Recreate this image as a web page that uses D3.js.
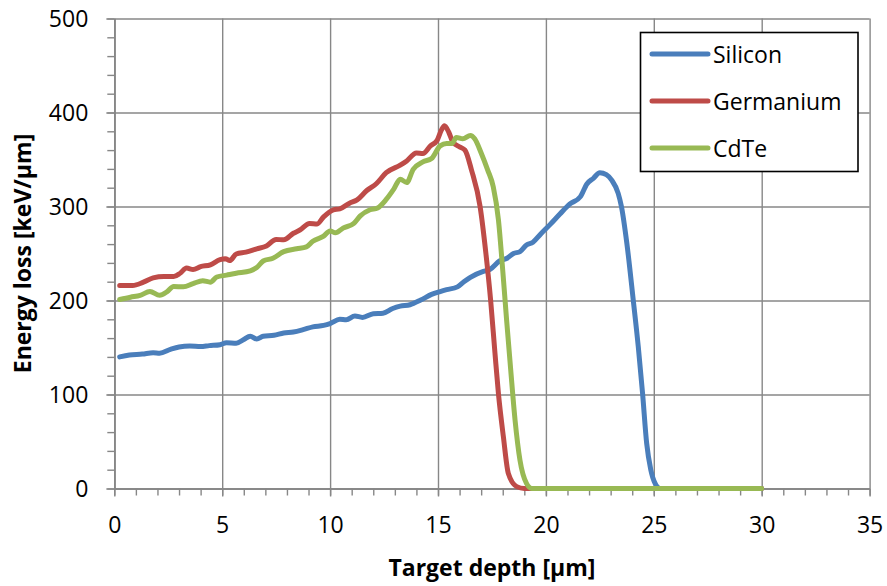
<!DOCTYPE html>
<html>
<head>
<meta charset="utf-8">
<script src="https://cdn.jsdelivr.net/npm/d3@7"></script>
<style>
  body { margin: 0; background: #fff; }
  svg { display: block; font-family: "Open Sans", sans-serif; }
  .grid line { stroke: #878787; stroke-width: 1.4; }
  .grid .domain { display: none; }
  .axis .domain { stroke: #878787; stroke-width: 1.6; }
  .axis line { stroke: #878787; stroke-width: 1.4; }
  .axis text { font-size: 23px; fill: #000; font-family: "Open Sans", sans-serif; }
  .title { font-size: 23px; font-weight: bold; }
  .series { fill: none; stroke-width: 5; stroke-linejoin: round; stroke-linecap: round; }
</style>
</head>
<body>
<script>
// series names + colours
var seriesNames = ["Silicon", "Germanium", "CdTe"];
var seriesColors = ["#4a7ebb", "#be4b48", "#98b954"];

// depth [um], energy loss [keV/um]
var silicon = [[0.25,140],[0.7,142],[1.3,143],[1.8,144.5],[2.1,144],[2.6,148],[3.0,150.5],[3.5,151.5],[4.0,151],[4.4,152],
  [4.9,153],[5.2,155],[5.65,154.5],[6.0,158.5],[6.3,162],[6.6,159],[6.9,162],[7.4,163],[7.85,165.5],[8.3,166.5],
  [8.75,169],[9.2,172],[9.7,173.5],[10.0,175.5],[10.45,180],[10.75,179.5],[11.15,183.5],[11.5,182],[12.0,186],[12.45,186.5],
  [12.9,191.5],[13.25,194],[13.7,195.5],[14.2,200.5],[14.7,206.5],[15.1,209.5],[15.4,211.5],[15.9,214.5],[16.2,220],[16.5,224.7],
  [17.1,231],[17.4,233],[17.85,242],[18.2,245],[18.5,250],[18.8,252],[19.1,259],[19.4,262],[19.75,270.5],[20.2,281],
  [20.65,292],[21.1,302.5],[21.6,310.5],[21.9,324],[22.2,330],[22.5,336],[22.8,334],[23.05,328],[23.35,314],[23.5,300],
  [23.75,261],[24.05,200],[24.28,151],[24.48,101],[24.67,48],[24.86,20],[25.06,5.5],[25.3,0],[30,0]];

var germanium = [[0.25,216],[0.85,216],[1.35,219.5],[1.8,224],[2.3,225.5],[2.75,225.5],[3.05,229],[3.35,234.5],[3.65,233],[4.0,236],
  [4.45,238],[4.9,243.5],[5.15,244.5],[5.35,242.5],[5.65,249.5],[6.1,251.5],[6.6,255],[7.05,258],[7.5,265],[7.85,264.5],
  [8.3,271.5],[8.6,275],[9.05,282],[9.4,281.5],[9.7,289],[10.15,296.5],[10.45,297.5],[10.9,303.5],[11.25,307],[11.7,317],
  [12.15,324.5],[12.6,336],[13.25,344],[13.55,348.5],[14.0,357],[14.3,356.5],[14.65,364.5],[14.95,370],[15.15,381],[15.3,386],
  [15.5,379],[15.7,368],[16.0,363.5],[16.25,360],[16.55,339],[16.95,300],[17.22,250],[17.44,200],[17.64,144],[17.8,101],
  [18.03,55],[18.26,16],[18.65,2],[19.0,0],[30,0]];

var cdte = [[0.25,201],[0.75,203.5],[1.2,205.5],[1.65,209.5],[2.1,205.5],[2.45,209.5],[2.75,215],[3.2,214.5],[3.65,218],[4.1,221],
  [4.45,219.5],[4.75,225],[5.2,227],[5.65,229],[6.3,231.5],[6.6,235],[6.9,242],[7.35,245],[7.85,252],[8.45,255],
  [8.9,257],[9.2,263],[9.7,268.5],[10.0,274],[10.25,272],[10.6,277],[11.1,282],[11.4,290],[11.85,296.5],[12.2,298.5],
  [12.6,307.5],[12.95,318.5],[13.25,329],[13.55,325.5],[13.85,339.5],[14.3,347.5],[14.7,351],[15.1,364.5],[15.4,367],[15.65,367],
  [15.85,373.5],[16.15,372],[16.5,375.5],[16.7,372],[17.0,357],[17.3,339],[17.56,321],[17.8,286],[18.0,232],[18.18,179],
  [18.37,126],[18.57,73],[18.8,30],[19.1,5.5],[19.35,0],[30,0]];

var allSeries = [silicon, germanium, cdte];

// axis ticks
var xTicks = [0, 5, 10, 15, 20, 25, 30, 35];
var yTicks = [0, 100, 200, 300, 400, 500];
var xMinor = d3.range(0, 36, 1);
var yMinor = d3.range(0, 501, 20);

var width = 887, height = 586;
var plotLeft = 114.3, plotRight = 869.6, plotTop = 18.5, plotBottom = 488.5;

var svg = d3.select("body").append("svg")
    .attr("width", width)
    .attr("height", height);

var x = d3.scaleLinear().domain([0, 35]).range([plotLeft, plotRight]);
var y = d3.scaleLinear().domain([0, 500]).range([plotBottom, plotTop]);

// gridlines
svg.append("g")
    .attr("class", "grid")
    .attr("transform", "translate(0," + plotBottom + ")")
    .call(d3.axisBottom(x).tickValues(xTicks).tickSize(-(plotBottom - plotTop)).tickFormat(""));
svg.append("g")
    .attr("class", "grid")
    .attr("transform", "translate(" + plotLeft + ",0)")
    .call(d3.axisLeft(y).tickValues(yTicks).tickSize(-(plotRight - plotLeft)).tickFormat(""));

// minor ticks
svg.append("g")
    .attr("class", "axis")
    .attr("transform", "translate(0," + plotBottom + ")")
    .call(d3.axisBottom(x).tickValues(xMinor).tickSize(7).tickSizeOuter(0).tickFormat(""));
svg.append("g")
    .attr("class", "axis")
    .attr("transform", "translate(" + plotLeft + ",0)")
    .call(d3.axisLeft(y).tickValues(yMinor).tickSize(7).tickSizeOuter(0).tickFormat(""));

// major ticks + labels
var xAxis = svg.append("g")
    .attr("class", "axis")
    .attr("transform", "translate(0," + plotBottom + ")")
    .call(d3.axisBottom(x).tickValues(xTicks).tickSize(8).tickSizeOuter(0).tickPadding(36));
xAxis.selectAll("text").attr("dy", 0);

var yAxis = svg.append("g")
    .attr("class", "axis")
    .attr("transform", "translate(" + plotLeft + ",0)")
    .call(d3.axisLeft(y).tickValues(yTicks).tickSize(8).tickSizeOuter(0).tickPadding(18));
yAxis.selectAll("text").attr("dy", "0.36em");

// series
var line = d3.line()
    .x(function(d){ return x(d[0]); })
    .y(function(d){ return y(d[1]); })
    .curve(d3.curveMonotoneX);

svg.selectAll(".series")
    .data(allSeries)
    .enter()
    .append("path")
    .attr("class", "series")
    .attr("d", line)
    .style("stroke", function(d, i){ return seriesColors[i]; });

// axis titles
svg.append("text")
    .attr("class", "title")
    .attr("x", (plotLeft + plotRight) / 2)
    .attr("y", 576)
    .attr("text-anchor", "middle")
    .text("Target depth [µm]");

svg.append("text")
    .attr("class", "title")
    .attr("transform", "translate(31," + ((plotTop + plotBottom) / 2) + ") rotate(-90)")
    .attr("text-anchor", "middle")
    .text("Energy loss [keV/µm]");

// legend
var legend = svg.append("g");
legend.append("rect")
    .attr("x", 640.5)
    .attr("y", 32.5)
    .attr("width", 217.5)
    .attr("height", 139)
    .style("fill", "#fff")
    .style("stroke", "#000")
    .style("stroke-width", 1.6);

var items = legend.selectAll(".item")
    .data(seriesNames)
    .enter()
    .append("g")
    .attr("class", "item")
    .attr("transform", function(d, i){ return "translate(0," + (54 + i * 47) + ")"; });

items.append("line")
    .attr("x1", 652)
    .attr("x2", 708)
    .style("stroke", function(d, i){ return seriesColors[i]; })
    .style("stroke-width", 5)
    .style("stroke-linecap", "round");

items.append("text")
    .attr("x", 713)
    .attr("y", 9)
    .style("font-size", "23px")
    .text(function(d){ return d; });
</script>
</body>
</html>
